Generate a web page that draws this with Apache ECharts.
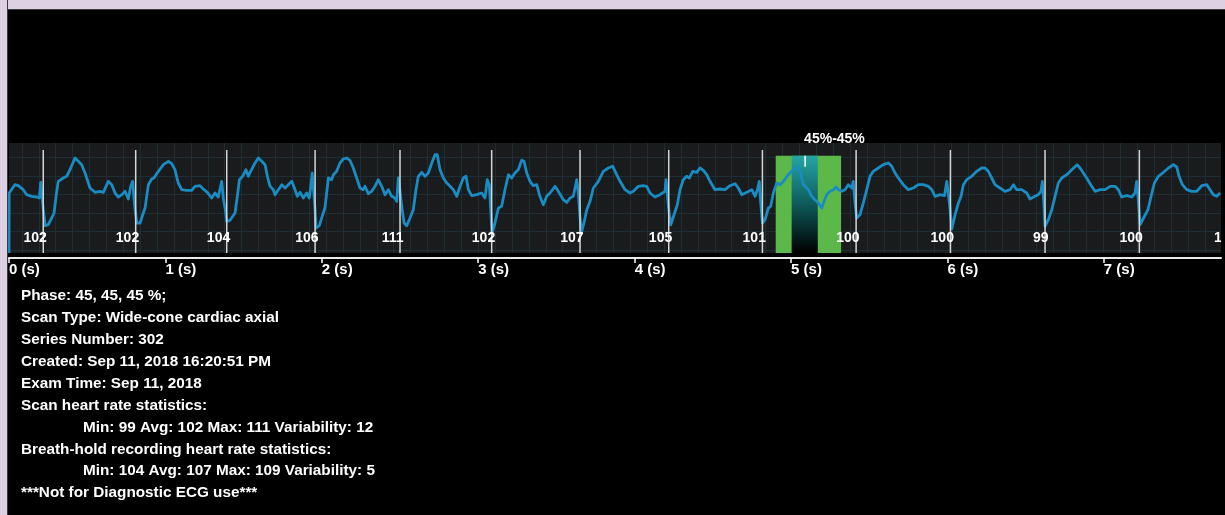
<!DOCTYPE html>
<html><head><meta charset="utf-8">
<script src="https://cdn.jsdelivr.net/npm/echarts@6/dist/echarts.min.js"></script>
<style>
html,body{margin:0;padding:0;background:#000;}
#chart{position:absolute;left:0;top:0;width:1225px;height:515px;}
#bt{position:absolute;left:0;top:0;width:1225px;height:9px;background:#ddd0e3;border-bottom:1px solid #3c3a3e;}
#bl{position:absolute;left:0;top:0;width:7px;height:515px;background:#ddd0e3;border-right:1px solid #3c3a3e;}
</style></head><body>
<div id="chart"></div><div id="bt"></div><div id="bl"></div>
<script>
// ECG trace: [time (s), amplitude (arbitrary units)]
const ecgTrace = [
[0,0],[0.001,60],[0.038,68.3],[0.059,67.3],[0.091,63.3],[0.113,58.3],[0.145,56.7],[0.177,56],[0.194,55],[0.203,70.7],[0.213,70.7],[0.219,43.3],[0.232,27.3],[0.251,28.3],[0.273,35],[0.288,40],[0.301,56.7],[0.315,71.7],[0.347,75],[0.369,76.7],[0.390,83.3],[0.422,95],[0.443,91.7],[0.465,88.3],[0.486,80],[0.518,65],[0.550,60.7],[0.582,61.7],[0.603,60.7],[0.635,71.7],[0.657,68.3],[0.678,60],[0.699,56],[0.721,58.3],[0.742,61.7],[0.763,54],[0.778,66.7],[0.791,71.7],[0.799,55],[0.806,43.3],[0.817,30],[0.838,30],[0.855,38.3],[0.870,45],[0.891,68.3],[0.912,74],[0.927,75],[0.955,81.7],[0.987,88.3],[1.019,91.7],[1.040,89.3],[1.061,83.3],[1.082,70],[1.104,63.3],[1.136,62.7],[1.168,62.7],[1.189,66.7],[1.221,67.3],[1.232,69.3],[1.247,63.3],[1.268,60.7],[1.296,55],[1.317,60],[1.338,56],[1.360,71.7],[1.370,55],[1.383,43.3],[1.392,31.7],[1.413,32.7],[1.445,40],[1.460,56.7],[1.473,73.3],[1.494,76.7],[1.515,83.3],[1.530,76.7],[1.545,81.7],[1.573,90],[1.594,95],[1.616,91.7],[1.637,88.3],[1.652,76.7],[1.669,66.7],[1.690,63.3],[1.701,58.3],[1.722,63.3],[1.744,68.3],[1.765,65],[1.786,68.3],[1.808,71.7],[1.829,63.3],[1.843,56.7],[1.861,60.7],[1.882,55],[1.903,60],[1.920,55],[1.925,60.7],[1.939,80],[1.950,78.3],[1.957,43.3],[1.963,25],[1.984,27.3],[2.006,38.3],[2.020,45],[2.042,75],[2.063,73.3],[2.074,78.3],[2.095,81.7],[2.116,90],[2.137,94],[2.159,95],[2.180,92.7],[2.201,85],[2.223,75],[2.244,65],[2.265,63.3],[2.276,66.7],[2.297,59.3],[2.319,61.7],[2.340,66.7],[2.361,73.3],[2.383,66.7],[2.404,58.3],[2.425,63.3],[2.447,56.7],[2.468,55],[2.479,51.7],[2.489,75],[2.500,61.7],[2.511,46.7],[2.526,30],[2.543,27.3],[2.564,35],[2.585,43.3],[2.602,63.3],[2.617,76.7],[2.639,80.7],[2.660,76.7],[2.681,80],[2.703,90],[2.724,98.3],[2.738,98.3],[2.756,83.3],[2.777,75],[2.799,70],[2.820,66.7],[2.841,63.3],[2.863,56.7],[2.884,66.7],[2.905,75],[2.922,76.7],[2.937,63.3],[2.958,57.3],[2.990,58.3],[3.022,60],[3.043,55],[3.058,73.3],[3.071,68.3],[3.080,43.3],[3.088,20],[3.107,30],[3.129,45],[3.150,46.7],[3.171,63.3],[3.193,78.3],[3.214,75],[3.235,80],[3.256,83.3],[3.278,92.7],[3.293,91.7],[3.310,80],[3.331,71.7],[3.352,67.3],[3.374,68.3],[3.391,58.3],[3.416,48.3],[3.438,56.7],[3.459,60],[3.491,66.7],[3.512,61.7],[3.544,53.3],[3.566,50.7],[3.587,55],[3.608,56.7],[3.630,73.3],[3.640,60],[3.651,35],[3.662,21.7],[3.676,30],[3.694,43.3],[3.715,51.7],[3.736,65],[3.768,71.7],[3.800,81.7],[3.832,85],[3.860,86.7],[3.885,78.3],[3.907,71.7],[3.939,63.3],[3.971,60],[3.992,61.7],[4.024,66.7],[4.056,67.3],[4.077,66.7],[4.098,60],[4.130,56],[4.162,58.3],[4.194,61.7],[4.201,73.3],[4.212,53.3],[4.222,38.3],[4.231,28.3],[4.252,38.3],[4.273,48.3],[4.290,63.3],[4.311,73.3],[4.333,76.7],[4.350,75],[4.371,81.7],[4.397,80.7],[4.418,85],[4.439,82.7],[4.461,78.3],[4.482,71.7],[4.514,63.3],[4.546,64],[4.578,63.3],[4.610,67.3],[4.642,69.3],[4.663,65],[4.685,58.3],[4.717,60.7],[4.749,63.3],[4.770,56.7],[4.785,63.3],[4.797,71.7],[4.806,50],[4.817,30],[4.834,33.3],[4.855,45],[4.870,46.7],[4.887,60],[4.909,70],[4.930,68.3],[4.951,71.7],[4.983,78.3],[5.004,81.7],[5.026,85],[5.040,86],[5.058,81.7],[5.079,68.3],[5.111,63.3],[5.132,56.7],[5.153,53.3],[5.175,50],[5.196,45],[5.211,51.7],[5.228,58.3],[5.249,61.7],[5.271,63.3],[5.288,66],[5.303,63.3],[5.324,61.7],[5.345,63.3],[5.366,68.3],[5.388,65],[5.398,71.7],[5.409,50],[5.420,35],[5.441,38.3],[5.462,50],[5.484,63.3],[5.505,76.7],[5.526,81.7],[5.558,85],[5.590,88.3],[5.622,90],[5.644,86.7],[5.665,80],[5.686,75],[5.718,68.3],[5.750,63.3],[5.782,65],[5.814,68.3],[5.846,68.3],[5.878,66.7],[5.900,63.3],[5.921,56.7],[5.953,58.3],[5.981,57.3],[5.996,71.7],[6.006,70],[6.015,46.7],[6.028,24],[6.049,38.3],[6.070,50],[6.087,56.7],[6.102,68.3],[6.123,73.3],[6.155,76.7],[6.187,81.7],[6.219,85],[6.240,85],[6.261,81.7],[6.283,75],[6.304,68.3],[6.336,65],[6.368,61.7],[6.400,63.3],[6.422,68.3],[6.443,63.3],[6.475,63.3],[6.507,60],[6.528,54],[6.560,56.7],[6.581,58.3],[6.598,61.7],[6.607,71.7],[6.616,50],[6.624,26.7],[6.645,33.3],[6.667,43.3],[6.688,56.7],[6.709,70],[6.731,75],[6.763,78.3],[6.795,83.3],[6.829,88.3],[6.848,85],[6.869,80],[6.890,75],[6.922,66.7],[6.944,61.7],[6.976,63.3],[7.008,63.3],[7.040,66.7],[7.072,66.7],[7.093,63.3],[7.114,56],[7.146,57.3],[7.178,56],[7.199,60],[7.210,71.7],[7.221,51.7],[7.232,28.3],[7.254,35],[7.282,43.3],[7.302,56.7],[7.323,70],[7.349,76.7],[7.381,80.7],[7.413,85],[7.445,88.3],[7.466,86],[7.481,76.7],[7.502,68.3],[7.530,63.3],[7.562,61.7],[7.594,61.7],[7.626,67.3],[7.658,68.3],[7.679,63.3],[7.700,58.3],[7.722,56.7],[7.743,60]
];
// Beat markers (s) and heart rate labels (bpm)
const beatTimes = [0.219,0.810,1.392,1.957,2.500,3.086,3.651,4.218,4.817,5.416,6.019,6.624,7.227,7.832];
const heartRates = [102,102,104,106,111,102,107,105,101,100,100,99,100,100];
// Reconstruction phase window (s)
const phaseWindow = [4.902, 5.320];
const phaseCore = [5.004, 5.171];
const phaseMarker = 5.090;
const phaseLabel = '45%-45%';
// Time axis
const timeMax = 7.749;
const timeUnit = ' (s)';
// Info text
const infoLines = [
 'Phase: 45, 45, 45 %;',
 'Scan Type: Wide-cone cardiac axial',
 'Series Number: 302',
 'Created: Sep 11, 2018 16:20:51 PM',
 'Exam Time: Sep 11, 2018',
 'Scan heart rate statistics:',
 'Min: 99 Avg: 102 Max: 111 Variability: 12',
 'Breath-hold recording heart rate statistics:',
 'Min: 104 Avg: 107 Max: 109 Variability: 5',
 '***Not for Diagnostic ECG use***'
];

const FONT = '"Liberation Sans", Arial, sans-serif';
const chart = echarts.init(document.getElementById('chart'), null, {renderer: 'canvas'});
const indented = new Set([6, 8]);
const graphics = infoLines.map((t, i) => ({
  type: 'text', x: indented.has(i) ? 83 : 21, y: 296 + i * 21.9,
  style: {text: t, fill: '#ffffff', font: 'bold 15.3px ' + FONT, verticalAlign: 'middle'}
}));

const hidden = {axisLine: {show: false}, axisTick: {show: false}, axisLabel: {show: false}};
const gridLine = {show: true, lineStyle: {color: '#1f2d37', width: 1}};

chart.setOption({
  backgroundColor: '#000',
  animation: false,
  grid: [
    {left: 9, top: 143, width: 1212, height: 110, show: true, backgroundColor: '#191b1d', borderWidth: 0, containLabel: false, outerBoundsMode: 'none'},
    {left: 9, top: 157.5, width: 1212, height: 92.5, containLabel: false, outerBoundsMode: 'none'},
    {left: 21.9, top: 143, width: 1183, height: 110, containLabel: false, outerBoundsMode: 'none'}
  ],
  xAxis: [
    {type: 'value', gridIndex: 0, min: 0, max: timeMax, interval: 1, offset: 5,
     axisLine: {show: true, onZero: false, lineStyle: {color: '#e8e8e8', width: 2}},
     axisTick: {show: true, length: 5, lineStyle: {color: '#ffffff', width: 1.5}},
     axisLabel: {show: true, color: '#ffffff', fontSize: 15, fontWeight: 'bold', fontFamily: FONT,
       align: 'left', margin: 4, showMaxLabel: false, formatter: v => v + timeUnit},
     splitLine: {show: false}},
    Object.assign({type: 'value', gridIndex: 1, min: 0, max: 1, splitLine: {show: false}}, hidden),
    Object.assign({type: 'value', gridIndex: 2, min: 0, max: 70, interval: 1, splitLine: gridLine}, hidden)
  ],
  yAxis: [
    {type: 'value', gridIndex: 0, min: 0, max: 110, show: false},
    Object.assign({type: 'value', gridIndex: 1, min: 0, max: 5, interval: 1, splitLine: gridLine}, hidden),
    Object.assign({type: 'value', gridIndex: 2, min: 0, max: 1, splitLine: {show: false}}, hidden)
  ],
  graphic: graphics,
  series: [
    {
      type: 'custom', xAxisIndex: 0, yAxisIndex: 0, z: 1, clip: false, silent: true,
      data: [[phaseWindow[0], phaseWindow[1], phaseCore[0], phaseCore[1], phaseMarker]],
      renderItem(params, api) {
        const x0 = api.coord([api.value(0), 0])[0], x1 = api.coord([api.value(1), 0])[0];
        const c0 = api.coord([api.value(2), 0])[0], c1 = api.coord([api.value(3), 0])[0];
        const m = api.coord([api.value(4), 0])[0];
        const yTop = api.coord([0, 97.3])[1], yBot = api.coord([0, 0])[1];
        const yMk = api.coord([0, 86.3])[1], yLab = api.coord([0, 114])[1];
        return {type: 'group', children: [
          {type: 'rect', shape: {x: x0, y: yTop, width: x1 - x0, height: yBot - yTop}, style: {fill: '#5cb848'}},
          {type: 'rect', shape: {x: c0, y: yTop, width: c1 - c0, height: yBot - yTop},
           style: {fill: new echarts.graphic.LinearGradient(0, 0, 0, 1, [
             {offset: 0, color: '#25a6a3'}, {offset: 0.45, color: '#106262'}, {offset: 1, color: '#000000'}])}},
          {type: 'line', shape: {x1: m, y1: yTop, x2: m, y2: yMk}, style: {stroke: '#ffffff', lineWidth: 1.5}},
          {type: 'text', x: m - 1, y: yLab, style: {text: phaseLabel, fill: '#ffffff', font: 'bold 14px ' + FONT, verticalAlign: 'middle'}}
        ]};
      }
    },
    {
      type: 'line', xAxisIndex: 0, yAxisIndex: 0, z: 3, data: ecgTrace, showSymbol: false, silent: true,
      lineStyle: {color: '#1a8cc2', width: 2.8, join: 'round'}, clip: true
    },
    {
      type: 'custom', xAxisIndex: 0, yAxisIndex: 0, z: 4, clip: true, silent: true,
      data: beatTimes.map((t, i) => [t, heartRates[i]]),
      renderItem(params, api) {
        const t = api.value(0), hr = api.value(1);
        const top = api.coord([t, 103]), bot = api.coord([t, 0]), lab = api.coord([t, 14.7]);
        return {type: 'group', children: [
          {type: 'line', shape: {x1: top[0], y1: top[1], x2: bot[0], y2: bot[1]}, style: {stroke: '#d6d6d6', lineWidth: 1.5}},
          {type: 'text', x: lab[0] + 3.5, y: lab[1], style: {text: String(hr), fill: '#ffffff', font: 'bold 14px ' + FONT, align: 'right', verticalAlign: 'middle'}}
        ]};
      }
    }
  ]
});
</script></body></html>
